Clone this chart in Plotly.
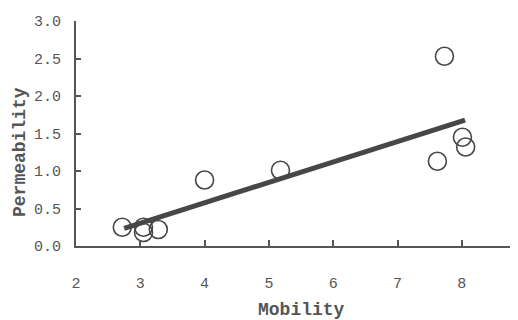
import numpy as np
import plotly.graph_objects as go

# Data
mobility = [2.72, 3.05, 3.05, 3.28, 4.00, 5.18, 7.73, 7.62, 8.01, 8.06]
permeability = [0.25, 0.25, 0.18, 0.22, 0.88, 1.01, 2.53, 1.13, 1.45, 1.32]
fit_x = [2.75, 8.05]

x_ticks = [2, 3, 4, 5, 6, 7, 8]
y_ticks = [0.0, 0.5, 1.0, 1.5, 2.0, 2.5, 3.0]
y_tick_labels = ["0.0", "0.5", "1.0", "1.5", "2.0", "2.5", "3.0"]

slope, intercept = np.polyfit(mobility, permeability, 1)
fit_y = [slope * v + intercept for v in fit_x]

ink = "#474747"
text_col = "#555555"
mono = "Liberation Mono, DejaVu Sans Mono, monospace"

# page body has an 8px margin; size figure so it fills the 518x320 window
W, H = 510, 312
L, T, B = 68, 13, 74
pw, ph = W - L, H - T - B

fig = go.Figure()
fig.add_trace(go.Scatter(
    x=fit_x, y=fit_y, mode="lines",
    line=dict(color=ink, width=5), hoverinfo="skip", showlegend=False,
))
fig.add_trace(go.Scatter(
    x=mobility, y=permeability, mode="markers",
    marker=dict(symbol="circle-open", size=18, color=ink, line=dict(width=1.6, color=ink)),
    showlegend=False,
))

fig.update_layout(
    width=W, height=H,
    margin=dict(l=L, r=0, t=T, b=B),
    paper_bgcolor="white", plot_bgcolor="white",
    font=dict(family=mono, size=15, color=text_col),
    xaxis=dict(
        range=[2, 2 + pw / 64.3],
        tickvals=x_ticks, ticktext=[str(t) for t in x_ticks],
        showline=True, linecolor=text_col, linewidth=2,
        ticks="inside", ticklen=6, tickwidth=2, tickcolor=text_col,
        showgrid=False, zeroline=False,
        ticklabelstandoff=22,
    ),
    yaxis=dict(
        range=[0, 3.0],
        tickvals=y_ticks, ticktext=y_tick_labels,
        showline=True, linecolor=text_col, linewidth=2,
        ticks="inside", ticklen=5, tickwidth=2, tickcolor=text_col,
        showgrid=False, zeroline=False,
        ticklabelstandoff=10,
    ),
    annotations=[
        dict(text="<b>Mobility</b>", xref="paper", yref="paper",
             x=(301 - 76) / pw, y=-(310 - 246) / ph, showarrow=False,
             xanchor="center", yanchor="middle",
             font=dict(family=mono, size=18, color=text_col)),
        dict(text="<b>Permeability</b>", xref="paper", yref="paper",
             x=-(76 - 20) / pw, y=(246 - 152) / ph, showarrow=False,
             xanchor="center", yanchor="middle", textangle=-90,
             font=dict(family=mono, size=18, color=text_col)),
    ],
)

fig.write_html("out.html")
